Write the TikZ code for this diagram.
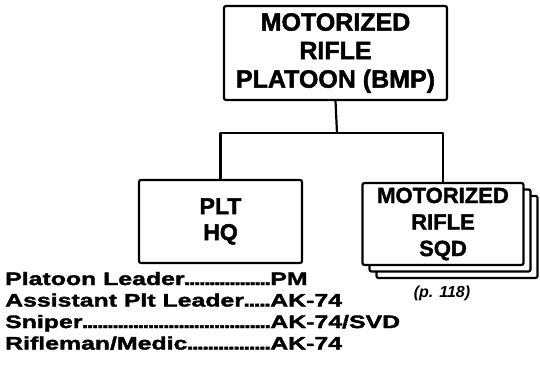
\documentclass[tikz,border=0pt]{standalone}
\usepackage{fontspec}
\setmainfont{Liberation Sans}
\newfontfamily\heavy{Liberation Sans}[BoldFeatures={FakeBold=1.8}]
\newfontfamily\listfont{Liberation Sans}[BoldFeatures={FakeBold=2,FakeStretch=1.38}]
\usetikzlibrary{shadows}
\newcommand\rowdots{\xleaders\hbox to 5pt{\hss.\hss}\hfill}
\newcommand\listrow[2]{\makebox[265pt][l]{#1\rowdots}#2}
\begin{document}
\begin{tikzpicture}[x=1pt,y=-1pt,line join=round,line cap=round,
	unit/.style={draw,line width=2.2pt,rounded corners=2pt,fill=white,inner sep=0pt,align=center},
	role/.style={anchor=base west,inner sep=0pt,font=\listfont\bfseries\fontsize{18}{18}\selectfont},
	link/.style={line width=2.2pt}]
	\useasboundingbox (0,0) rectangle (540,375);
	% cac o don vi
	\node[unit,minimum width=223pt,minimum height=94pt,font=\heavy\bfseries\fontsize{25}{28.5}\selectfont] (plt) at (335.5,53) {MOTORIZED\\RIFLE\\PLATOON (BMP)};
	\node[unit,minimum width=163pt,minimum height=83pt,font=\heavy\bfseries\fontsize{23}{26}\selectfont] (hq) at (220.5,221.5) {PLT\\HQ};
	\node[unit,minimum width=161pt,minimum height=82pt,font=\heavy\bfseries\fontsize{22}{26.5}\selectfont,
		double copy shadow={shadow xshift=7pt,shadow yshift=-6.5pt}] (sqd) at (443,224) {MOTORIZED\\RIFLE\\SQD};
	\coordinate (split) at (337,133);
	\draw[link] (plt.south) -- (split);
	\draw[link] (hq.north) |- (split) -| (sqd.north);
	\node[inner sep=0pt,font=\heavy\bfseries\itshape\fontsize{16}{16}\selectfont] (page) at (442,293) {(p. 118)};
	% danh sach
	\node[role] (r1) at (5,285) {\listrow{Platoon Leader}{PM}};
	\node[role] (r2) at (5,306.5) {\listrow{Assistant Plt Leader}{AK-74}};
	\node[role] (r3) at (5,328) {\listrow{Sniper}{AK-74/SVD}};
	\node[role] (r4) at (5,349.5) {\listrow{Rifleman/Medic}{AK-74}};
\end{tikzpicture}
\end{document}
